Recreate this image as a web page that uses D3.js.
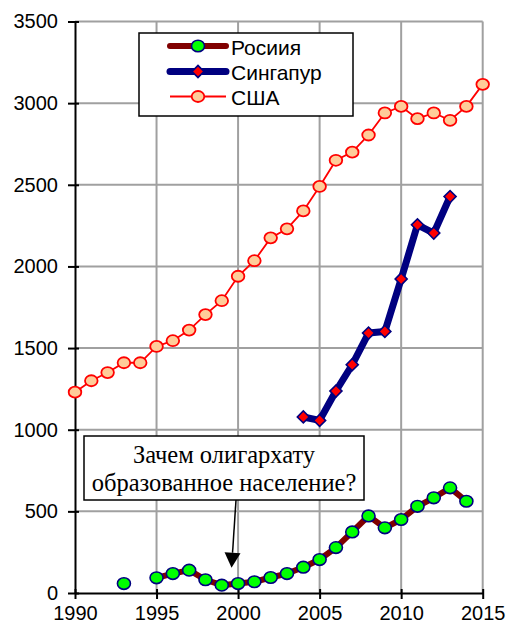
<!DOCTYPE html>
<html>
<head>
<meta charset="utf-8">
<script src="https://cdn.jsdelivr.net/npm/d3@7"></script>
<style>
  html, body { margin: 0; padding: 0; background: #fff; }
  svg { display: block; }
</style>
</head>
<body>
<svg id="chart" width="509" height="627"></svg>
<script>
// ---- data ----
const usaYears = d3.range(1990, 2016);
const usaValues = [1230, 1300, 1350, 1410, 1410, 1510, 1545, 1610, 1705, 1790,
                   1940, 2035, 2175, 2230, 2340, 2490, 2650, 2700, 2805, 2940,
                   2980, 2905, 2940, 2895, 2980, 3115];
const singaporeYears = d3.range(2004, 2014);
const singaporeValues = [1078, 1057, 1237, 1398, 1592, 1602, 1923, 2255, 2204, 2428];
const russiaYears = [1993, 1994, 1995, 1996, 1997, 1998, 1999, 2000, 2001, 2002, 2003,
                     2004, 2005, 2006, 2007, 2008, 2009, 2010, 2011, 2012, 2013, 2014];
const russiaValues = [58, null, 93, 119, 140, 81, 48, 58, 69, 95, 119,
                      158, 205, 278, 374, 472, 399, 450, 531, 583, 644, 562];
const seriesNames = ["Росиия", "Сингапур", "США"];
const xTicks = [1990, 1995, 2000, 2005, 2010, 2015];
const yTicks = [0, 500, 1000, 1500, 2000, 2500, 3000, 3500];
const noteLines = ["Зачем олигархату", "образованное население?"];
const noteTarget = [1999.6, 155]; // year, value pointed at by the arrow

// ---- setup ----
const svg = d3.select("#chart");
const x = d3.scaleLinear().domain([1990, 2015]).range([75, 482.7]);
const y = d3.scaleLinear().domain([0, 3500]).range([593, 21.5]);

// gridlines
const grid = svg.append("g");
grid.selectAll("line.h").data(yTicks.filter(d => d > 0)).join("line")
  .attr("x1", x(1990)).attr("x2", x(2015))
  .attr("y1", d => y(d)).attr("y2", d => y(d))
  .attr("stroke", "#a0a0a0").attr("stroke-width", 2);
grid.selectAll("line.v").data(xTicks.filter(d => d > 1990)).join("line")
  .attr("x1", d => x(d)).attr("x2", d => x(d))
  .attr("y1", y(0)).attr("y2", y(3500))
  .attr("stroke", "#a0a0a0").attr("stroke-width", 2);

// axes
const yAxis = d3.axisLeft(y).tickValues(yTicks).tickFormat(d3.format("d"))
  .tickSizeInner(8).tickSizeOuter(0).tickPadding(8);
const gy = svg.append("g").attr("transform", `translate(${x(1990)},0)`).call(yAxis);
gy.select(".domain").attr("stroke", "#000").attr("stroke-width", 2);
gy.selectAll(".tick line").attr("stroke", "#000").attr("stroke-width", 2).attr("x2", -7).attr("x1", 4);
gy.selectAll(".tick text").attr("font-family", "Liberation Sans, Arial, sans-serif")
  .attr("font-size", 20).attr("fill", "#000").attr("x", -17);

const xAxis = d3.axisBottom(x).tickValues(xTicks).tickFormat(d3.format("d"))
  .tickSizeInner(6).tickSizeOuter(0).tickPadding(8);
const gx = svg.append("g").attr("transform", `translate(0,${y(0)})`).call(xAxis);
gx.select(".domain").attr("stroke", "#000").attr("stroke-width", 2);
gx.selectAll(".tick line").attr("stroke", "#000").attr("stroke-width", 2).attr("y1", -4).attr("y2", 6);
gx.selectAll(".tick text").attr("font-family", "Liberation Sans, Arial, sans-serif")
  .attr("font-size", 20).attr("fill", "#000").attr("dy", "0.75em").attr("y", 12);

// ---- series ----
const line = d3.line().defined(d => d[1] != null).x(d => x(d[0])).y(d => y(d[1]));

// Russia
const ru = russiaYears.map((yr, i) => [yr, russiaValues[i]]);
svg.append("path").datum(ru).attr("d", line).attr("fill", "none")
  .attr("stroke", "#800000").attr("stroke-width", 6).attr("stroke-linejoin", "round");
svg.append("g").selectAll("ellipse").data(ru.filter(d => d[1] != null)).join("ellipse")
  .attr("cx", d => x(d[0])).attr("cy", d => y(d[1])).attr("rx", 6.5).attr("ry", 5.8)
  .attr("fill", "#00ff00").attr("stroke", "#000080").attr("stroke-width", 1.6);

// Singapore
const sg = singaporeYears.map((yr, i) => [yr, singaporeValues[i]]);
svg.append("path").datum(sg).attr("d", line).attr("fill", "none")
  .attr("stroke", "#000080").attr("stroke-width", 7).attr("stroke-linejoin", "round");
const diamond = d3.symbol().type(d3.symbolSquare).size(72);
svg.append("g").selectAll("path").data(sg).join("path")
  .attr("d", diamond)
  .attr("transform", d => `translate(${x(d[0])},${y(d[1])}) rotate(45)`)
  .attr("fill", "#ff0000").attr("stroke", "#000080").attr("stroke-width", 1.6);

// USA
const us = usaYears.map((yr, i) => [yr, usaValues[i]]);
svg.append("path").datum(us).attr("d", line).attr("fill", "none")
  .attr("stroke", "#ff0000").attr("stroke-width", 1.8);
svg.append("g").selectAll("ellipse").data(us).join("ellipse")
  .attr("cx", d => x(d[0])).attr("cy", d => y(d[1])).attr("rx", 6.3).attr("ry", 5.5)
  .attr("fill", "#ffcc99").attr("stroke", "#ff0000").attr("stroke-width", 1.8);

// ---- legend ----
const lg = svg.append("g");
lg.append("rect").attr("x", 139).attr("y", 33).attr("width", 214).attr("height", 83)
  .attr("fill", "#fff").attr("stroke", "#000").attr("stroke-width", 1.5);
const rowsY = [46, 71.5, 96.5];
// Russia row
lg.append("line").attr("x1", 170).attr("x2", 226).attr("y1", rowsY[0]).attr("y2", rowsY[0])
  .attr("stroke", "#800000").attr("stroke-width", 6).attr("stroke-linecap", "round");
lg.append("ellipse").attr("cx", 198).attr("cy", rowsY[0]).attr("rx", 6.5).attr("ry", 5.8)
  .attr("fill", "#00ff00").attr("stroke", "#000080").attr("stroke-width", 1.6);
// Singapore row
lg.append("line").attr("x1", 170).attr("x2", 226).attr("y1", rowsY[1]).attr("y2", rowsY[1])
  .attr("stroke", "#000080").attr("stroke-width", 7).attr("stroke-linecap", "round");
lg.append("path").attr("d", diamond).attr("transform", `translate(198,${rowsY[1]}) rotate(45)`)
  .attr("fill", "#ff0000").attr("stroke", "#000080").attr("stroke-width", 1.6);
// USA row
lg.append("line").attr("x1", 170).attr("x2", 226).attr("y1", rowsY[2]).attr("y2", rowsY[2])
  .attr("stroke", "#ff0000").attr("stroke-width", 1.8);
lg.append("ellipse").attr("cx", 198).attr("cy", rowsY[2]).attr("rx", 6.3).attr("ry", 5.5)
  .attr("fill", "#ffcc99").attr("stroke", "#ff0000").attr("stroke-width", 1.8);
lg.selectAll("text").data(seriesNames).join("text")
  .attr("x", 231).attr("y", (d, i) => rowsY[i] + 1)
  .attr("dominant-baseline", "central")
  .attr("font-family", "Liberation Sans, Arial, sans-serif").attr("font-size", 21)
  .attr("fill", "#000").text(d => d);

// ---- annotation ----
const ann = svg.append("g");
const boxX0 = 84, boxX1 = 364, boxY0 = 436, boxY1 = 500;
const ax0 = 236, ay0 = boxY1;
const ax1 = x(noteTarget[0]), ay1 = y(noteTarget[1]);
const ang = Math.atan2(ay1 - ay0, ax1 - ax0);
const headLen = 15, headW = 8;
const bx = ax1 - headLen * Math.cos(ang), by = ay1 - headLen * Math.sin(ang);
ann.append("line").attr("x1", ax0).attr("y1", ay0).attr("x2", bx).attr("y2", by)
  .attr("stroke", "#000").attr("stroke-width", 1.5);
ann.append("path")
  .attr("d", `M${ax1},${ay1} L${bx - headW * Math.sin(ang)},${by + headW * Math.cos(ang)} L${bx + headW * Math.sin(ang)},${by - headW * Math.cos(ang)} Z`)
  .attr("fill", "#000");
ann.append("rect").attr("x", boxX0).attr("y", boxY0).attr("width", boxX1 - boxX0).attr("height", boxY1 - boxY0)
  .attr("fill", "#fff").attr("stroke", "#000").attr("stroke-width", 1.5);
ann.selectAll("text").data(noteLines).join("text")
  .attr("x", (boxX0 + boxX1) / 2).attr("y", (d, i) => 463 + i * 27.5)
  .attr("text-anchor", "middle")
  .attr("font-family", "Liberation Serif, Times New Roman, serif").attr("font-size", 24.5)
  .attr("fill", "#000").text(d => d);
</script>
</body>
</html>
